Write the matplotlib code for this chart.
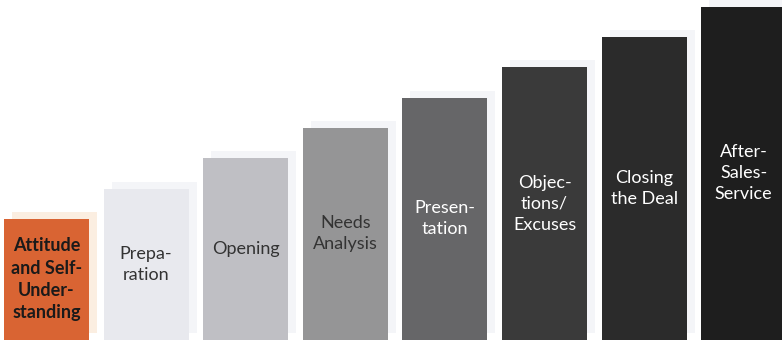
import numpy as np
import matplotlib.pyplot as plt

# step labels, heights (in step units) and colours
steps = ["Attitude\nand Self-\nUnder-\nstanding", "Prepa-\nration", "Opening",
         "Needs\nAnalysis", "Presen-\ntation", "Objec-\ntions/\nExcuses",
         "Closing\nthe Deal", "After-\nSales-\nService"]
heights = [4, 5, 6, 7, 8, 9, 10, 11]
bar_colors = ["#D96433", "#E8E9EE", "#BFBFC4", "#959596", "#666668",
              "#3A3A3A", "#2B2B2B", "#1E1E1E"]
shadow_colors = ["#FBEEE1"] + ["#F4F5F8"] * 7
text_colors = ["#1a1a1a", "#333333", "#333333", "#333333",
               "white", "white", "white", "white"]
text_weights = ["bold"] + ["normal"] * 7

fig = plt.figure(figsize=(7.82, 3.40), dpi=100)
ax = fig.add_axes([0, 0, 1, 1])

x = np.arange(len(steps))
width = 0.853
dx, dy = 0.08, 0.231  # shadow offset (up and right)

ax.bar(x + dx, heights, width=width, bottom=dy, color=shadow_colors, zorder=1)
ax.bar(x, heights, width=width, color=bar_colors, zorder=2)

for xi, h, label, tc, tw in zip(x, heights, steps, text_colors, text_weights):
    ax.text(xi, h / 2, label, ha="center", va="center", color=tc,
            fontsize=13, fontweight=tw, family="Lato",
            linespacing=1.38, zorder=3)

ax.set_xlim(-0.467, -0.467 + 782 / 99.6)
ax.set_ylim(0, 340 / 30.3)
ax.axis("off")

fig.savefig("out.png", dpi=100)
